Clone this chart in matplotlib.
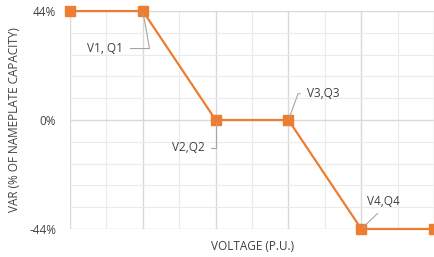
import numpy as np
import matplotlib.pyplot as plt
from matplotlib.ticker import MultipleLocator, FixedLocator

# Volt-VAR curve points (category positions along the voltage axis)
points = [0, 1, 2, 3, 4, 5]
var_pct = [44, 44, 0, 0, -44, -44]
y_ticks = [-44, 0, 44]
y_tick_labels = ["-44%", "0%", "44%"]
point_labels = {1: "V1, Q1", 2: "V2,Q2", 3: "V3,Q3", 4: "V4,Q4"}

plt.rcParams['font.family'] = ['Open Sans', 'DejaVu Sans']

fig = plt.figure(figsize=(4.35, 2.57), dpi=100)
ax = fig.add_axes([0.161, 0.109, 0.837, 0.848])

ax.set_xlim(0, 5)
ax.set_ylim(-44, 44)
ax.yaxis.set_major_locator(FixedLocator(y_ticks))
ax.set_yticklabels(y_tick_labels)
ax.yaxis.set_minor_locator(MultipleLocator(8.8))
ax.xaxis.set_major_locator(MultipleLocator(1))
ax.xaxis.set_minor_locator(MultipleLocator(0.5))
ax.set_xticklabels([])

ax.grid(which='major', color='#D9D9D9', linewidth=1)
ax.grid(which='minor', color='#EBEBEB', linewidth=0.8)
ax.set_axisbelow(True)
for s in ax.spines.values():
    s.set_visible(False)
ax.tick_params(which='both', length=0, labelsize=8.5, colors='#404040', pad=4)
ax.tick_params(axis='y', pad=10)

ax.plot(points, var_pct, color='#ED7D31', linewidth=1.6, marker='s',
        markersize=6.5, clip_on=False, zorder=3)

# data labels with leader lines (offsets in points)
label_style = {
    1: dict(off=(-27, -27), relpos=(1, 0.5), conn='angle,angleA=0,angleB=100,rad=0'),
    2: dict(off=(-20, -20), relpos=(1, 0.5), conn='angle,angleA=0,angleB=90,rad=0'),
    3: dict(off=(25, 19), relpos=(0, 0.5), conn='angle,angleA=180,angleB=70,rad=0'),
    4: dict(off=(16, 20), relpos=(0.5, 0), conn='arc3'),
}
for i, txt in point_labels.items():
    st = label_style[i]
    ax.annotate(txt, xy=(points[i], var_pct[i]), xytext=st['off'],
                textcoords='offset points', ha='center', va='center',
                fontsize=8.5, color='#404040',
                arrowprops=dict(arrowstyle='-', color='#A6A6A6', lw=0.8,
                                shrinkA=3, shrinkB=2, relpos=st['relpos'],
                                connectionstyle=st['conn']))

ax.set_xlabel("VOLTAGE (P.U.)", fontsize=8.5, color='#404040', labelpad=4)
ax.set_ylabel("VAR (% OF NAMEPLATE CAPACITY)", fontsize=8.5, color='#404040', labelpad=6)

fig.savefig("out.png", dpi=100)
